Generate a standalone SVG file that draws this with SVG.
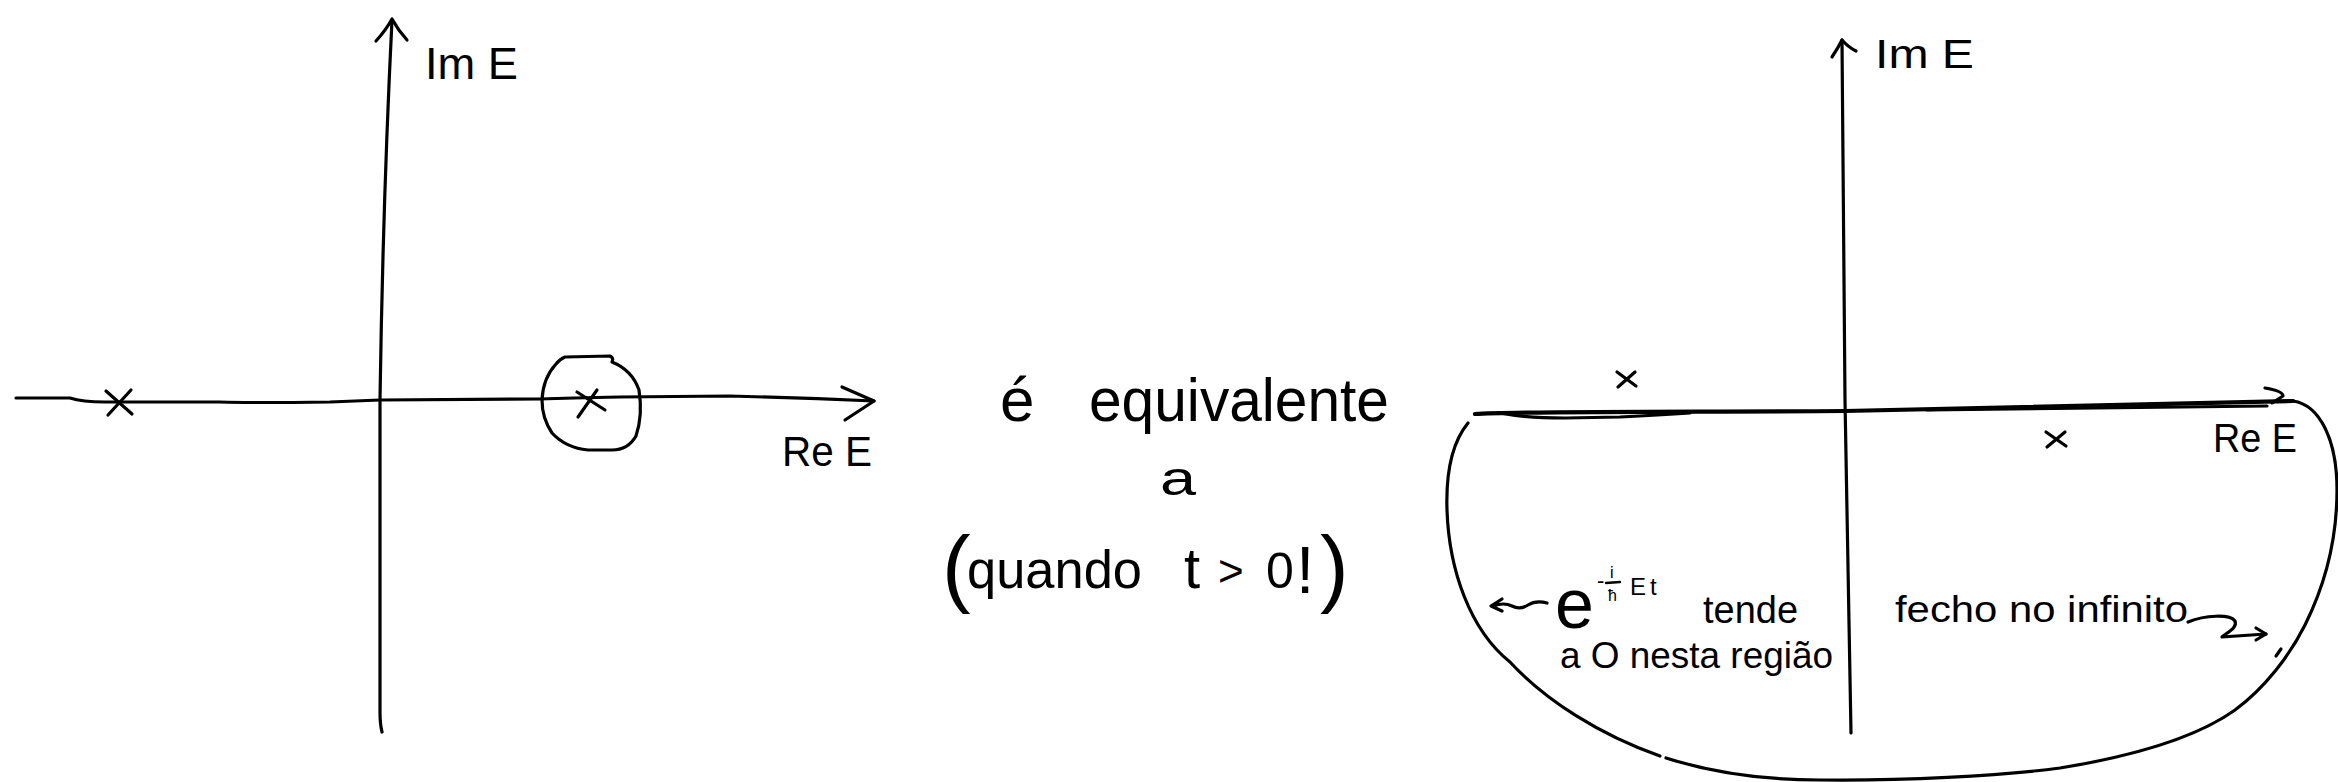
<svg xmlns="http://www.w3.org/2000/svg" width="2338" height="782" viewBox="0 0 2338 782">
<style>
  .ln { fill: none; stroke: #000; stroke-width: 3.2; stroke-linecap: round; stroke-linejoin: round; }
  .thick { fill: none; stroke: #000; stroke-width: 4.2; stroke-linecap: round; stroke-linejoin: round; }
  .tx { font-family: "Liberation Sans", Arial, sans-serif; fill: #000; }
</style>
<rect width="2338" height="782" fill="#fff"/>

<!-- Left plane -->
<g id="left-plane">
  <g id="left-axes">
    <path class="ln" d="M392,20 Q383,200 380,400 L380,712 Q380,724 382,732"/>
    <path class="ln" d="M376,41 Q386,30 392,19 Q398,30 407,40"/>
    <path class="ln" d="M16,398 L70,398 Q82,402 105,402 L220,402 Q250,403 330,402 L380,400 L540,399 Q570,398 620,397 L730,396 Q800,398 874,401"/>
    <path class="ln" d="M842,387 L874,401 L845,420"/>
  </g>
  <g id="left-pole-1">
    <path class="ln" d="M106,391 L132,414 M131,390 L108,415"/>
  </g>
  <g id="left-pole-2">
    <path class="ln" d="M577,392 L605,410 M597,390 L578,417"/>
    <path class="ln" d="M565,357 L610,356 Q614,358 612,362 Q632,370 639,390 Q643,415 636,436 Q628,450 612,450 L588,450 Q566,448 552,433 Q542,418 542,400 Q543,378 556,364 Q560,359 565,357 Z"/>
  </g>
  <text class="tx" x="425" y="79" font-size="44" textLength="93" lengthAdjust="spacingAndGlyphs">Im E</text>
  <text class="tx" x="782" y="466" font-size="42" textLength="90" lengthAdjust="spacingAndGlyphs">Re E</text>
</g>

<!-- Middle text -->
<g id="middle-text">
  <text class="tx" x="1000" y="421" font-size="62">é</text>
  <text class="tx" x="1089" y="421" font-size="62" textLength="300" lengthAdjust="spacingAndGlyphs">equivalente</text>
  <text class="tx" x="1160" y="495" font-size="48" textLength="36" lengthAdjust="spacingAndGlyphs">a</text>
  <text class="tx" x="942" y="596" font-size="86">(</text>
  <text class="tx" x="967" y="588" font-size="54" textLength="175" lengthAdjust="spacingAndGlyphs">quando</text>
  <text class="tx" x="1184" y="588" font-size="58">t</text>
  <text class="tx" x="1218" y="586" font-size="44">&gt;</text>
  <text class="tx" x="1266" y="588" font-size="50">0</text>
  <text class="tx" x="1296" y="593" font-size="66">!</text>
  <text class="tx" x="1320" y="596" font-size="86">)</text>
</g>

<!-- Right plane -->
<g id="right-plane">
  <g id="right-axes">
    <path class="ln" d="M1842,40 L1845,400 Q1848,600 1851,733"/>
    <path class="ln" d="M1832,57 Q1838,48 1842,40 Q1848,47 1856,51"/>
    <path class="thick" d="M1475,414 C1520,411 1700,412 1845,411 L2293,401"/>
    <path class="ln" d="M1500,413 Q1525,418 1565,418 L1620,417 Q1660,415 1690,413"/>
    <path class="ln" d="M1927,410 L2267,406"/>
    <path class="ln" d="M2265,388 Q2283,391 2283,396 L2272,403"/>
  </g>
  <g id="contour">
    <path class="ln" d="M1468,423 C1450,445 1446,480 1447,510 C1449,570 1470,630 1510,662 C1545,700 1600,735 1660,756"/>
    <path class="ln" d="M1666,758 C1710,772 1760,780 1820,780 C1900,781 2000,776 2060,768 C2140,755 2200,735 2235,710 C2265,688 2290,655 2305,625 C2325,585 2337,540 2337,490 C2337,440 2320,405 2293,401"/>
    <path class="ln" d="M2281,649 L2276,656"/>
  </g>
  <g id="right-pole-1">
    <path class="ln" d="M1617,372 L1636,386 M1635,372 L1618,387"/>
  </g>
  <g id="right-pole-2">
    <path class="ln" d="M2046,432 L2066,446 M2065,432 L2047,447"/>
  </g>
  <text class="tx" x="1875" y="68" font-size="40" textLength="99" lengthAdjust="spacingAndGlyphs">Im E</text>
  <text class="tx" x="2213" y="452" font-size="40" textLength="84" lengthAdjust="spacingAndGlyphs">Re E</text>

  <g id="note-left">
    <path class="ln" d="M1502,599 L1491,606 L1502,611 M1493,606 Q1504,602 1512,606 Q1520,610 1528,605 Q1536,600 1547,603"/>
    <text class="tx" x="1555" y="628" font-size="70">e</text>
    <text class="tx" x="1597" y="588" font-size="22">-</text>
    <text class="tx" x="1610" y="578" font-size="16">i</text>
    <path class="ln" d="M1606,583 L1620,582" style="stroke-width:2.4"/>
    <text class="tx" x="1608" y="601" font-size="16">ħ</text>
    <text class="tx" x="1630" y="595" font-size="24" letter-spacing="4">Et</text>
    <text class="tx" x="1703" y="623" font-size="38" textLength="95" lengthAdjust="spacingAndGlyphs">tende</text>
    <text class="tx" x="1560" y="668" font-size="37" textLength="273" lengthAdjust="spacingAndGlyphs">a O nesta região</text>
  </g>
  <g id="note-right">
    <text class="tx" x="1895" y="622" font-size="37" textLength="293" lengthAdjust="spacingAndGlyphs">fecho no infinito</text>
    <path class="ln" d="M2188,622 C2205,615 2230,614 2235,621 C2238,628 2226,633 2222,637 L2266,634"/>
    <path class="ln" d="M2256,628 L2266,634 L2256,640"/>
  </g>
</g>
</svg>
